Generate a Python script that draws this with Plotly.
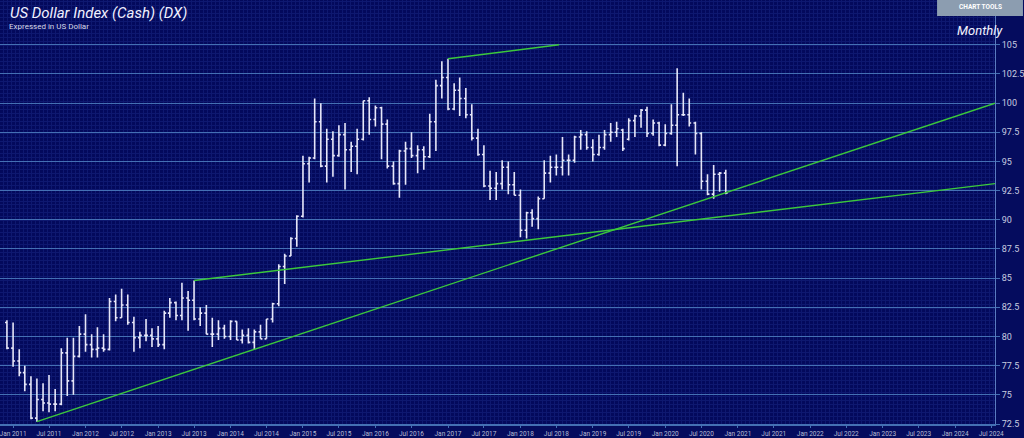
import pandas as pd
import plotly.graph_objects as go

# ---- data (monthly OHLC, Dec 2010 .. Nov 2020) ----
months = pd.date_range("2010-12-01", periods=120, freq="MS")

opens = [81.2, 79.0, 77.9, 76.9, 75.9, 73.0, 74.6, 74.3, 74.2, 74.2, 78.6, 76.2,
         78.3, 80.2, 79.3, 78.9, 79.0, 78.9, 83.0, 81.6, 82.7, 81.2, 79.9, 80.1,
         80.1, 79.8, 79.3, 82.0, 82.9, 81.8, 83.3, 83.1, 81.5, 82.0, 80.2, 80.2,
         80.7, 80.0, 81.3, 79.7, 80.1, 79.5, 80.4, 79.8, 81.5, 82.8, 86.0, 86.9,
         88.4, 90.3, 94.8, 95.3, 98.4, 94.6, 96.9, 95.5, 97.3, 96.0, 96.3, 96.9,
         100.2, 98.6, 99.6, 98.2, 94.6, 93.1, 95.9, 96.1, 95.5, 96.0, 95.4, 98.4,
         101.5, 102.2, 99.5, 101.1, 100.4, 99.0, 97.0, 95.6, 92.9, 92.7, 93.1, 94.5,
         93.0, 92.1, 89.1, 90.6, 90.1, 91.8, 94.0, 94.5, 94.5, 95.1, 95.1, 97.1,
         97.3, 96.2, 95.6, 96.2, 97.3, 97.5, 97.7, 96.9, 98.5, 98.9, 99.4, 97.4,
         98.3, 96.4, 97.4, 98.1, 99.0, 99.0, 98.3, 97.4, 93.3, 92.2, 93.9, 94.0]
highs = [81.4, 81.2, 78.9, 77.5, 76.6, 76.4, 76.0, 76.7, 75.5, 79.0, 79.9, 79.9,
         80.9, 81.9, 80.2, 80.8, 80.2, 83.3, 83.6, 84.1, 83.6, 81.7, 80.4, 81.5,
         80.7, 80.9, 82.2, 83.3, 83.0, 84.6, 83.9, 84.8, 82.5, 82.7, 81.6, 81.4,
         81.0, 81.4, 81.3, 80.6, 80.7, 80.6, 81.0, 81.5, 82.9, 86.2, 87.1, 88.5,
         90.4, 95.5, 95.4, 100.4, 100.0, 97.8, 97.6, 98.1, 98.3, 96.7, 97.8, 100.2,
         100.5, 99.8, 99.7, 98.6, 95.0, 96.0, 96.7, 97.5, 96.4, 96.3, 99.1, 102.0,
         103.6, 103.8, 101.7, 102.2, 101.3, 99.9, 97.8, 96.4, 94.2, 94.1, 95.1, 95.0,
         94.1, 92.6, 90.7, 90.9, 92.0, 95.1, 95.5, 95.6, 97.1, 95.6, 97.2, 97.7,
         97.6, 96.9, 97.3, 97.7, 98.3, 98.4, 97.8, 98.7, 99.0, 99.5, 99.7, 98.6,
         98.4, 98.2, 99.9, 103.0, 100.9, 100.4, 98.4, 97.5, 93.9, 94.7, 94.1, 94.3]
lows = [78.9, 77.4, 76.6, 75.3, 72.9, 72.7, 73.6, 73.5, 73.6, 74.1, 74.9, 75.0,
        78.2, 78.7, 78.2, 78.2, 78.7, 78.8, 81.3, 81.6, 81.0, 78.7, 79.0, 79.6,
        79.1, 79.1, 78.9, 81.6, 81.4, 81.4, 80.5, 81.4, 80.9, 80.2, 79.1, 79.7,
        79.8, 79.7, 79.7, 79.4, 79.4, 78.9, 79.8, 79.8, 81.2, 82.6, 84.5, 86.9,
        87.7, 90.2, 93.2, 95.2, 94.5, 93.2, 93.7, 95.4, 92.6, 94.1, 93.9, 96.8,
        97.3, 98.0, 95.2, 94.4, 93.0, 91.9, 93.0, 95.3, 94.0, 94.3, 95.3, 95.9,
        100.4, 99.4, 99.4, 98.9, 98.7, 96.8, 95.5, 92.8, 91.7, 91.7, 92.6, 92.2,
        92.1, 88.5, 88.4, 89.4, 89.2, 91.8, 93.2, 93.8, 93.8, 93.8, 94.9, 96.0,
        96.0, 95.0, 95.5, 96.0, 96.7, 97.1, 95.9, 96.8, 97.1, 97.9, 97.1, 97.2,
        96.3, 96.3, 97.3, 94.6, 98.9, 98.0, 95.6, 92.6, 92.1, 91.8, 92.4, 92.2]
closes = [79.0, 77.9, 76.9, 75.9, 73.0, 74.6, 74.3, 74.2, 74.2, 78.6, 76.2, 78.3,
          80.2, 79.3, 78.9, 79.0, 78.9, 83.0, 81.6, 82.7, 81.2, 79.9, 80.1, 80.1,
          79.8, 79.3, 82.0, 82.9, 81.8, 83.3, 83.1, 81.5, 82.0, 80.2, 80.2, 80.7,
          80.0, 81.3, 79.7, 80.1, 79.5, 80.4, 79.8, 81.5, 82.8, 86.0, 86.9, 88.4,
          90.3, 94.8, 95.3, 98.4, 94.6, 96.9, 95.5, 97.3, 96.0, 96.3, 96.9, 100.2,
          98.6, 99.6, 98.2, 94.6, 93.1, 95.9, 96.1, 95.5, 96.0, 95.4, 98.4, 101.5,
          102.2, 99.5, 101.1, 100.4, 99.0, 97.0, 95.6, 92.9, 92.7, 93.1, 94.5, 93.0,
          92.1, 89.1, 90.6, 90.1, 91.8, 94.0, 94.5, 94.5, 95.1, 95.1, 97.1, 97.3,
          96.2, 95.6, 96.2, 97.3, 97.5, 97.8, 96.1, 98.5, 98.9, 99.4, 97.4, 98.3,
          96.4, 97.4, 98.1, 99.0, 99.0, 98.3, 97.4, 93.3, 92.2, 93.9, 94.0, 92.3]

# trendlines drawn on the chart
trend_a_dates = ["2011-05-01", "2024-07-20"]
trend_a_vals = [72.7, 100.0]
trend_b_dates = ["2013-07-01", "2024-07-20"]
trend_b_vals = [84.8, 93.1]
trend_c_dates = ["2017-01-01", "2018-07-15"]
trend_c_vals = [103.8, 105.0]

# axis ticks
y_ticks = [72.5, 75, 77.5, 80, 82.5, 85, 87.5, 90, 92.5, 95, 97.5, 100, 102.5, 105]
y_ticktext = ["72.5", "75", "77.5", "80", "82.5", "85", "87.5", "90", "92.5",
              "95", "97.5", "100", "102.5", "105"]
x_ticks = [d.strftime("%Y-%m-%d") for d in pd.date_range("2011-01-01", "2024-07-01", freq="6MS")]
x_ticktext = [pd.Timestamp(d).strftime("%b %Y") for d in x_ticks]

# ---- figure ----
BG = "#03095c"
GRID = "#4470b4"
BAR = "#e6e6f8"
GREEN = "#3cc83c"

fig = go.Figure()
fig.add_trace(go.Ohlc(
    x=months, open=opens, high=highs, low=lows, close=closes,
    increasing=dict(line=dict(color=BAR, width=1.6)),
    decreasing=dict(line=dict(color=BAR, width=1.6)),
    tickwidth=0.35, hoverinfo="skip", showlegend=False,
))
for dts, vals in [(trend_a_dates, trend_a_vals), (trend_b_dates, trend_b_vals),
                  (trend_c_dates, trend_c_vals)]:
    fig.add_trace(go.Scatter(x=dts, y=vals, mode="lines",
                             line=dict(color=GREEN, width=1.4),
                             hoverinfo="skip", showlegend=False))

W, H = 1024, 438
L, R, T, B = 0, 28, 0, 12
plot_w = W - L - R
plot_h = H - T - B

fig.update_layout(
    width=W, height=H,
    margin=dict(l=L, r=R, t=T, b=B, pad=0),
    paper_bgcolor="#050c5e",
    plot_bgcolor=BG,
    xaxis=dict(
        type="date",
        range=["2010-10-27", "2024-07-20"],
        rangeslider=dict(visible=False),
        tickmode="array", tickvals=x_ticks, ticktext=x_ticktext,
        tickfont=dict(family="Roboto", size=6.5, color="#b8bcd4"),
        ticklabelposition="outside",
        ticklabeloverflow="allow",
        ticks="outside", ticklen=2, tickcolor=GRID,
        showgrid=False, zeroline=False,
        showline=True, linecolor=GRID, linewidth=1.5,
        minor=dict(dtick=20.1 * 86400000, tick0="2010-10-27",
                   showgrid=True, gridcolor="#0e1870", gridwidth=1),
    ),
    yaxis=dict(
        side="right",
        range=[72.5, 108.84],
        tickmode="array", tickvals=y_ticks, ticktext=y_ticktext,
        tickfont=dict(family="Roboto", size=9, color="#c8cce0"),
        ticklabeloverflow="allow",
        ticks="outside", ticklen=4, tickcolor=GRID,
        showgrid=True, gridcolor=GRID, gridwidth=1.3,
        zeroline=False,
        showline=True, linecolor="#5a7cc0", linewidth=1,
        minor=dict(dtick=0.3413, tick0=72.5, showgrid=True,
                   gridcolor="#0e1870", gridwidth=1),
    ),
)

def px(xp):
    return (xp - L) / plot_w

def py(yp):
    return 1 - (yp - T) / plot_h

fig.add_annotation(x=px(8), y=py(13), xref="paper", yref="paper",
                   text="<i>US Dollar Index (Cash) (DX)</i>", showarrow=False,
                   xanchor="left", yanchor="middle",
                   font=dict(family="Roboto", size=15, color="#f0f0ff"))
fig.add_annotation(x=px(7), y=py(27), xref="paper", yref="paper",
                   text="Expressed in US Dollar", showarrow=False,
                   xanchor="left", yanchor="middle",
                   font=dict(family="Roboto", size=8, color="#d8dae8"))
fig.add_annotation(x=px(1006), y=py(31), xref="paper", yref="paper",
                   text="<i>Monthly</i>", showarrow=False,
                   xanchor="right", yanchor="middle",
                   font=dict(family="Roboto", size=13, color="#f4f4ff"))
fig.add_shape(type="rect", xref="paper", yref="paper",
              x0=px(938), x1=px(1024), y0=py(16), y1=py(0),
              fillcolor="#8c9db0", line=dict(width=0), layer="above")
fig.add_annotation(x=px(981), y=py(7.5), xref="paper", yref="paper",
                   text="<b>CHART TOOLS</b>", showarrow=False,
                   xanchor="center", yanchor="middle",
                   font=dict(family="Roboto", size=6.5, color="#ffffff"))

fig.write_html(
    "out.html",
    config={"displayModeBar": False},
    post_script="document.body.style.margin='0';document.body.style.background='#050c5e';",
)
